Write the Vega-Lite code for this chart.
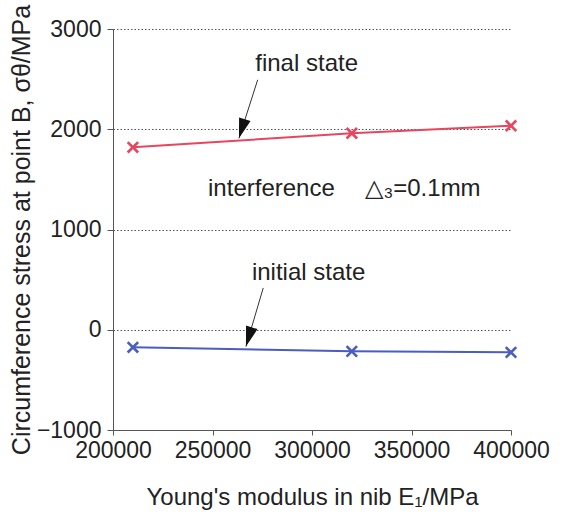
{
  "$schema": "https://vega.github.io/schema/vega-lite/v6.json",
  "width": 398,
  "height": 401,
  "autosize": "none",
  "padding": {"left": 113, "top": 29, "right": 52, "bottom": 82},
  "background": "white",
  "config": {
    "view": {"stroke": null},
    "font": "Liberation Sans",
    "axis": {
      "labelFont": "Liberation Sans",
      "titleFont": "Liberation Sans",
      "labelColor": "#222",
      "titleColor": "#222",
      "titleFontWeight": "normal",
      "domainColor": "#555",
      "tickColor": "#555",
      "labelFlush": false
    }
  },
  "datasets": {
    "series": [
      {"E": 210000, "stress": 1820, "state": "final state"},
      {"E": 320000, "stress": 1960, "state": "final state"},
      {"E": 400000, "stress": 2035, "state": "final state"},
      {"E": 210000, "stress": -175, "state": "initial state"},
      {"E": 320000, "stress": -215, "state": "initial state"},
      {"E": 400000, "stress": -225, "state": "initial state"}
    ],
    "arrows": [
      {"x": 272700, "y": 2493, "x2": 263300, "y2": 1910},
      {"x": 275500, "y": 417, "x2": 266800, "y2": -167}
    ],
    "labels": [
      {"x": 297300, "y": 2650, "text": "final state"},
      {"x": 298300, "y": 567, "text": "initial state"},
      {"x": 279600, "y": 1400, "text": "interference"},
      {"x": 355800, "y": 1400, "text": "△₃=0.1mm"}
    ]
  },
  "layer": [
    {
      "data": {"name": "series"},
      "mark": {"type": "line", "strokeWidth": 2},
      "encoding": {
        "x": {
          "field": "E", "type": "quantitative",
          "scale": {"domain": [200000, 400000], "nice": false, "zero": false},
          "axis": {
            "values": [200000, 250000, 300000, 350000, 400000],
            "format": "d", "grid": false,
            "title": "Young's modulus in nib  E₁/MPa",
            "labelFontSize": 23, "titleFontSize": 24,
            "tickSize": 5, "labelPadding": 4, "titlePadding": 23
          }
        },
        "y": {
          "field": "stress", "type": "quantitative",
          "scale": {"domain": [-1000, 3000], "nice": false, "zero": false},
          "axis": {
            "values": [-1000, 0, 1000, 2000, 3000],
            "format": "d",
            "title": "Circumference stress at point B, σθ/MPa",
            "labelFontSize": 23, "titleFontSize": 25,
            "tickSize": 6, "labelPadding": 6, "titlePadding": 2,
            "grid": true, "gridDash": [1.5, 2], "gridColor": "#555", "gridWidth": 1
          }
        },
        "color": {
          "field": "state", "type": "nominal",
          "scale": {"domain": ["final state", "initial state"], "range": ["#e8455e", "#4a5dc0"]},
          "legend": null
        }
      }
    },
    {
      "data": {"name": "series"},
      "mark": {"type": "point", "shape": "M-1,-1L1,1M1,-1L-1,1", "size": 110, "strokeWidth": 2.6, "filled": false, "opacity": 1},
      "encoding": {
        "x": {"field": "E", "type": "quantitative"},
        "y": {"field": "stress", "type": "quantitative"},
        "color": {"field": "state", "type": "nominal"}
      }
    },
    {
      "data": {"name": "arrows"},
      "mark": {"type": "rule", "color": "#333", "strokeWidth": 1},
      "encoding": {
        "x": {"field": "x", "type": "quantitative"},
        "y": {"field": "y", "type": "quantitative"},
        "x2": {"field": "x2"},
        "y2": {"field": "y2"}
      }
    },
    {
      "data": {"name": "arrows"},
      "mark": {"type": "point", "shape": "M0,0L-0.3,-1L0.3,-1Z", "size": 1600, "filled": true, "color": "#111", "opacity": 1, "angle": 17},
      "encoding": {
        "x": {"field": "x2", "type": "quantitative"},
        "y": {"field": "y2", "type": "quantitative"}
      }
    },
    {
      "data": {"name": "labels"},
      "mark": {"type": "text", "fontSize": 24, "font": "Liberation Sans", "color": "#222", "align": "center", "baseline": "middle"},
      "encoding": {
        "x": {"field": "x", "type": "quantitative"},
        "y": {"field": "y", "type": "quantitative"},
        "text": {"field": "text", "type": "nominal"}
      }
    }
  ]
}
